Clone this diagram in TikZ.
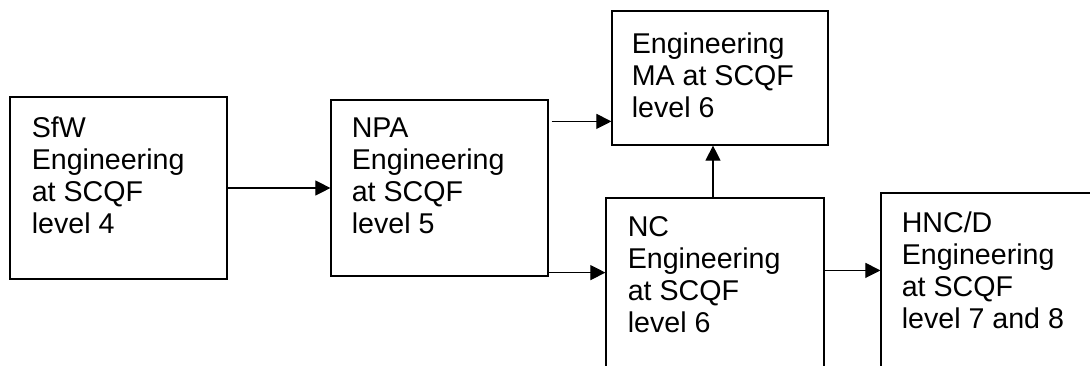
\documentclass[tikz,border=0pt]{standalone}
\usepackage{fontspec}
\setmainfont{Liberation Sans}
\usetikzlibrary{arrows.meta,fit}

\begin{document}
\begin{tikzpicture}[x=0.5pt,y=-0.5pt,
    stage/.style={draw,line width=0.6pt,inner sep=0pt},
    stagetext/.style={anchor=north west,inner sep=0pt,align=left,font=\fontsize{14.3}{16}\selectfont},
    flow/.style={-{Triangle[length=7.5pt,width=7.5pt]},line width=0.55pt}]
  \useasboundingbox (0,0) rectangle (1090,365);
  \clip (0,0) rectangle (1090,365);
  % the five qualification boxes, the last two run off the page
  \node[stage,fit={(10,97) (227,279)}] (sfw) {};
  \node[stage,fit={(331,100) (548,276)}] (npa) {};
  \node[stage,fit={(612,11) (828,145)}] (ma) {};
  \node[stage,fit={(606,198) (824,420)}] (nc) {};
  \node[stage,fit={(881,193) (1110,420)}] (hnc) {};
  % texts sit in the top left corner of each box
  \node[stagetext] (sfwtext) at ([shift={(11pt,-10pt)}]sfw.north west) {SfW\\Engineering\\at SCQF\\level 4};
  \node[stagetext] (npatext) at ([shift={(10.5pt,-9pt)}]npa.north west) {NPA\\Engineering\\at SCQF\\level 5};
  \node[stagetext] (matext) at ([shift={(10pt,-11pt)}]ma.north west) {Engineering\\MA at SCQF\\level 6};
  \node[stagetext] (nctext) at ([shift={(11pt,-9.5pt)}]nc.north west) {NC\\Engineering\\at SCQF\\level 6};
  \node[stagetext] (hnctext) at ([shift={(10.5pt,-9.5pt)}]hnc.north west) {HNC/D\\Engineering\\at SCQF\\level 7 and 8};
  % progression routes
  \draw[flow] (sfw) -- (npa);
  \draw[flow] ([shift={(1.5pt,-11pt)}]npa.north east) coordinate (toma) -- (toma -| ma.west);
  \draw[flow] ([yshift=2pt]npa.south east) coordinate (tonc) -- (tonc -| nc.west);
  \draw[flow] ([xshift=-1pt]nc.north) coordinate (upma) -- (upma |- ma.south);
  \draw[flow] ([yshift=-36.5pt]nc.north east) coordinate (tohnc) -- (tohnc -| hnc.west);
\end{tikzpicture}
\end{document}
